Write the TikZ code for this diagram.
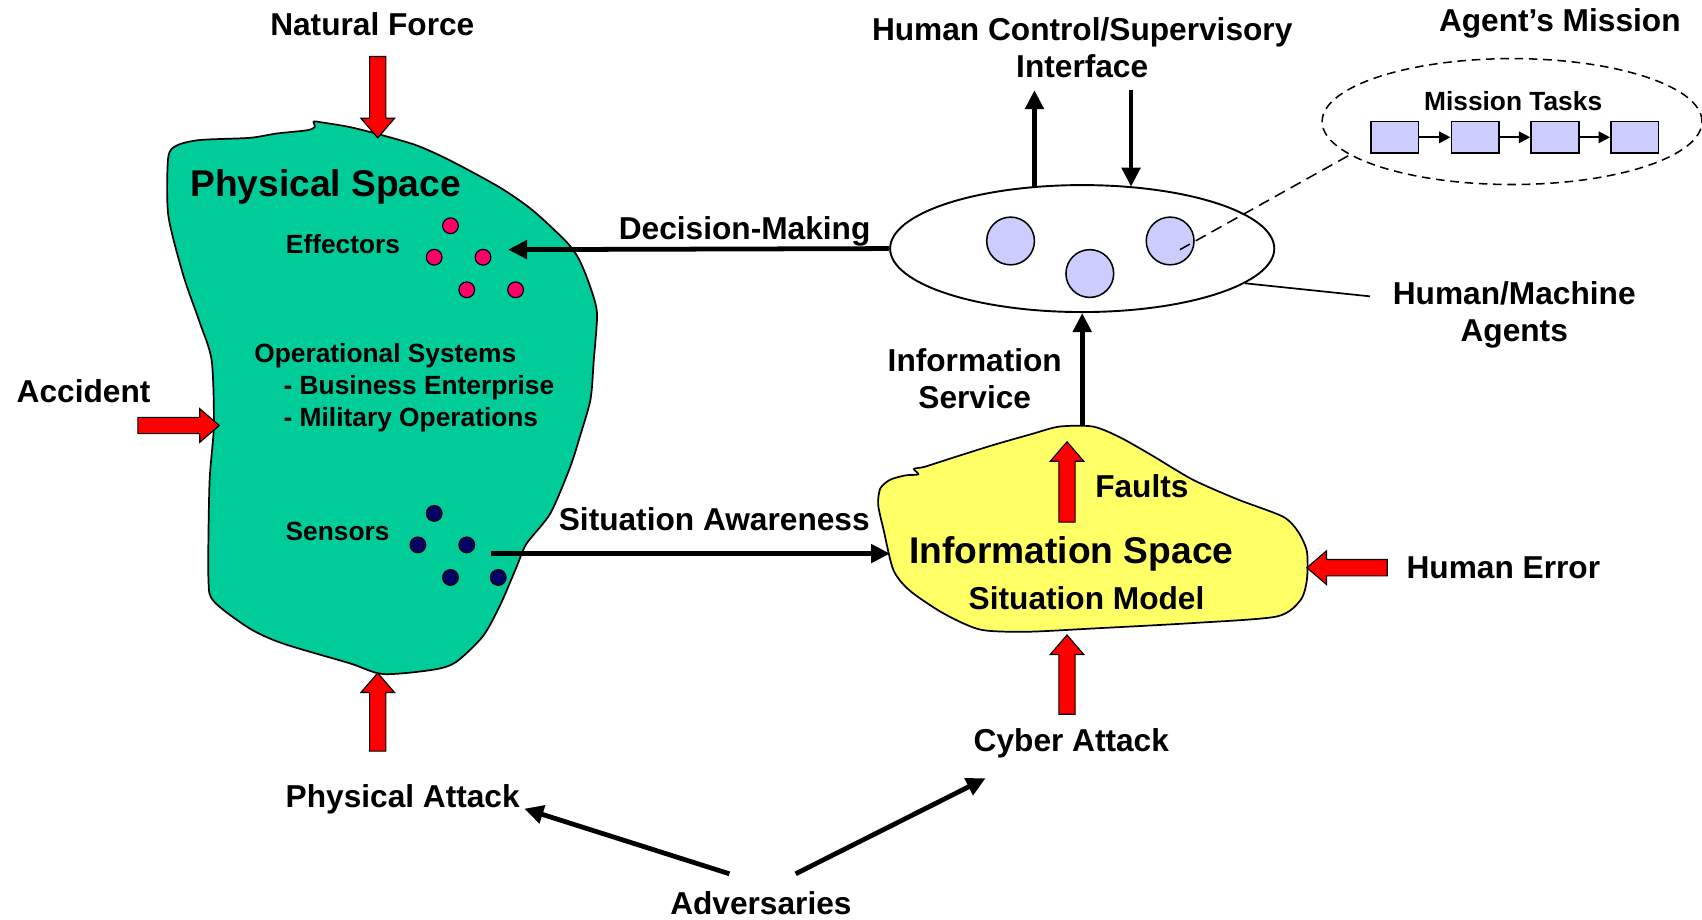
\documentclass[tikz,border=0pt]{standalone}
\usepackage{fontspec}
\setmainfont{Liberation Sans}
\usetikzlibrary{shapes.geometric,arrows.meta}
\definecolor{physgreen}{HTML}{00CC99}
\definecolor{infoyellow}{HTML}{FFFF66}
\definecolor{lav}{HTML}{CCCCFF}
\definecolor{effpink}{HTML}{FF0066}
\definecolor{sensnavy}{HTML}{000066}
\definecolor{arrred}{HTML}{FF0000}
\newcommand{\fbig}{\fontsize{19.5}{23}\selectfont\bfseries}
\newcommand{\fmed}{\fontsize{16.6}{19.7}\selectfont\bfseries}
\newcommand{\fsmall}{\fontsize{13.8}{16.5}\selectfont\bfseries}
\begin{document}
\begin{tikzpicture}[x=0.02cm,y=-0.02cm,
  lbl/.style={font=\fmed, inner sep=0pt, align=center},
  lblbig/.style={font=\fbig, inner sep=0pt},
  lblsmall/.style={font=\fsmall, inner sep=0pt},
  blob/.style={draw=black, line width=0.9pt},
  blackarrow/.style={line width=2.5pt, -{Triangle[length=10pt,width=9.5pt]}},
  thinline/.style={line width=0.9pt},
  agentcircle/.style={circle, draw, fill=lav, line width=0.8pt, minimum size=0.88cm, inner sep=0pt},
  dotstyle/.style={circle, draw, line width=0.6pt, minimum size=0.29cm, inner sep=0pt},
  taskbox/.style={rectangle, draw, fill=lav, line width=0.8pt, minimum width=0.88cm, minimum height=0.58cm, inner sep=0pt},
  pics/redarr/.style={code={
    \draw[fill=arrred, draw=black, line width=0.6pt, line join=miter]
      (0,-7.5) -- (#1-18,-7.5) -- (#1-18,-15.5) -- (#1,0) -- (#1-18,15.5) -- (#1-18,7.5) -- (0,7.5) -- cycle;
  }}
]
\useasboundingbox (0,0) rectangle (1568,847);

% ---------- Physical Space blob ----------
\draw[blob, fill=physgreen] plot[smooth cycle, tension=0.45] coordinates {
 (163,134) (184,129) (230,127) (255,123) (283,120) (290,117) (289,112) (298,113)
 (322,117) (350,124) (384,134) (415,148) (461,173) (491,194) (522,223) (534,240)
 (544,265) (550,289) (547,332) (544,368) (534,403) (525,431) (507,473) (485,501)
 (476,522) (461,557) (445,586) (420,610) (399,617) (353,621) (322,611) (261,593)
 (230,579) (197,554) (192,533) (193,445) (197,392) (195,332) (184,297) (169,254)
 (155,198) (155,145)};

% ---------- Information Space blob ----------
\draw[blob, fill=infoyellow] plot[smooth cycle, tension=0.45] coordinates {
 (811,450) (820,442) (834,438) (846,437) (842,432) (852,430) (880,421) (915,410)
 (950,400) (976,393) (1007,393) (1032,403) (1062,420) (1099,442) (1140,460)
 (1182,476) (1196,490) (1204,508) (1204,534) (1198,553) (1176,568) (1099,574)
 (1007,579) (946,582) (903,580) (869,565) (838,544) (823,525) (814,488) (809,465)};

% ---------- Texts in physical space ----------
\node[lblbig] (physlbl) at (300,172) {Physical Space};
\node[lblsmall] (efflbl) at (316,225) {Effectors};
\node[lblsmall, anchor=west] (opsys) at (234,328) {Operational Systems};
\node[lblsmall, anchor=west] (opbus) at (261,357) {- Business Enterprise};
\node[lblsmall, anchor=west] (opmil) at (261,387) {- Military Operations};
\node[lblsmall] (senslbl) at (311,490) {Sensors};

% effectors dots
\node[dotstyle, fill=effpink] (e1) at (415,208) {};
\node[dotstyle, fill=effpink] (e2) at (400,237) {};
\node[dotstyle, fill=effpink] (e3) at (445,237) {};
\node[dotstyle, fill=effpink] (e4) at (430,267) {};
\node[dotstyle, fill=effpink] (e5) at (475,267) {};
% sensor dots
\node[dotstyle, fill=sensnavy] (s1) at (400,473) {};
\node[dotstyle, fill=sensnavy] (s2) at (385,502) {};
\node[dotstyle, fill=sensnavy] (s3) at (430,502) {};
\node[dotstyle, fill=sensnavy] (s4) at (415,532) {};
\node[dotstyle, fill=sensnavy] (s5) at (459,532) {};

% ---------- Information space texts ----------
\node[lblbig] (infolbl) at (987,510) {Information Space};
\node[lbl] (sitmodel) at (1001,551) {Situation Model};
\node[lbl] (faults) at (1052,448) {Faults};

% ---------- Outer labels ----------
\node[lbl] (natforce) at (343,22) {Natural Force};
\node[lbl] (accident) at (77,360) {Accident};
\node[lbl] (physatt) at (371,736) {Physical Attack};
\node[lbl] (adversaries) at (701,832) {Adversaries};
\node[lbl] (cyberatt) at (987,685) {Cyber Attack};
\node[lbl] (humerr) at (1385,523) {Human Error};
\node[lbl] (sitaware) at (658,478) {Situation Awareness};
\node[lbl] (decmak) at (686,213) {Decision-Making};
\node[lbl] (infoserv) at (898,349) {Information\\Service};
\node[lbl] (hcsi) at (997,44) {Human Control/Supervisory\\Interface};
\node[lbl] (mission) at (1437,22) {Agent’s Mission};
\node[lbl] (hmagents) at (1395,290) {Human/Machine\\Agents};

% ---------- Agents ellipse ----------
\node[ellipse, draw, line width=1pt, fill=white, minimum width=7.08cm, minimum height=2.34cm, inner sep=0pt] (agents) at (997,229) {};
\node[agentcircle] (a1) at (931,222) {};
\node[agentcircle] (a2) at (1004,252) {};
\node[agentcircle] (a3) at (1078,222) {};

% ---------- Mission ellipse ----------
\node[ellipse, draw, dashed, dash pattern=on 4.5pt off 3pt, line width=0.8pt, minimum width=7.0cm, minimum height=2.32cm, inner sep=0pt] (missionell) at (1393,112) {};
\node[lblsmall] (mtasks) at (1394,93) {Mission Tasks};
\node[taskbox] (t1) at (1285,126.5) {};
\node[taskbox] (t2) at (1359,126.5) {};
\node[taskbox] (t3) at (1432.5,126.5) {};
\node[taskbox] (t4) at (1506,126.5) {};
\foreach \p/\q in {t1/t2,t2/t3,t3/t4}
  \draw[line width=1.1pt, -{Triangle[length=6pt,width=6pt]}] (\p.east) -- (\q.west);

% ---------- Connector coordinates ----------
\coordinate (effIn) at (468,230);
\coordinate (sensOut) at (452,510);
\coordinate (infoW) at (820,510);
\coordinate (infoTop) at (997,392);
\coordinate (ctrlUpS) at (953,172);
\coordinate (ctrlUpE) at (953,83);
\coordinate (ctrlDnS) at (1042,83);
\coordinate (ctrlDnE) at (1042,172);
\coordinate (agentEdge) at (1147,261);
\coordinate (agentLbl) at (1262,273);
\coordinate (dashS) at (1087,230);
\coordinate (dashE) at (1243,143);
\coordinate (advL) at (672,805);
\coordinate (advR) at (733,805);
\coordinate (physAttIn) at (483,745);
\coordinate (cyberIn) at (908,717);

% ---------- Black connectors ----------
\draw[blackarrow] (agents.west) -- (effIn);
\draw[blackarrow] (sensOut) -- (infoW);
\draw[blackarrow] (infoTop) -- (agents.south);
\draw[blackarrow] (ctrlUpS) -- (ctrlUpE);
\draw[blackarrow] (ctrlDnS) -- (ctrlDnE);
\draw[thinline] (agentEdge) -- (agentLbl);
\draw[line width=0.8pt, dashed, dash pattern=on 6pt off 3.5pt] (dashS) -- (dashE);
\draw[blackarrow] (advL) -- (physAttIn);
\draw[blackarrow] (advR) -- (cyberIn);

% ---------- Red block arrows ----------
\coordinate (nfS) at (348,52);
\coordinate (accS) at (127,392);
\coordinate (paS) at (348,692);
\coordinate (fltS) at (983,481);
\coordinate (caS) at (983,658);
\coordinate (heS) at (1278,523);
\pic[rotate=-90] at (nfS) {redarr=75};
\pic at (accS) {redarr=75};
\pic[rotate=90] at (paS) {redarr=72};
\pic[rotate=90] at (fltS) {redarr=74};
\pic[rotate=90] at (caS) {redarr=73};
\pic[rotate=180] at (heS) {redarr=74};
\end{tikzpicture}
\end{document}
